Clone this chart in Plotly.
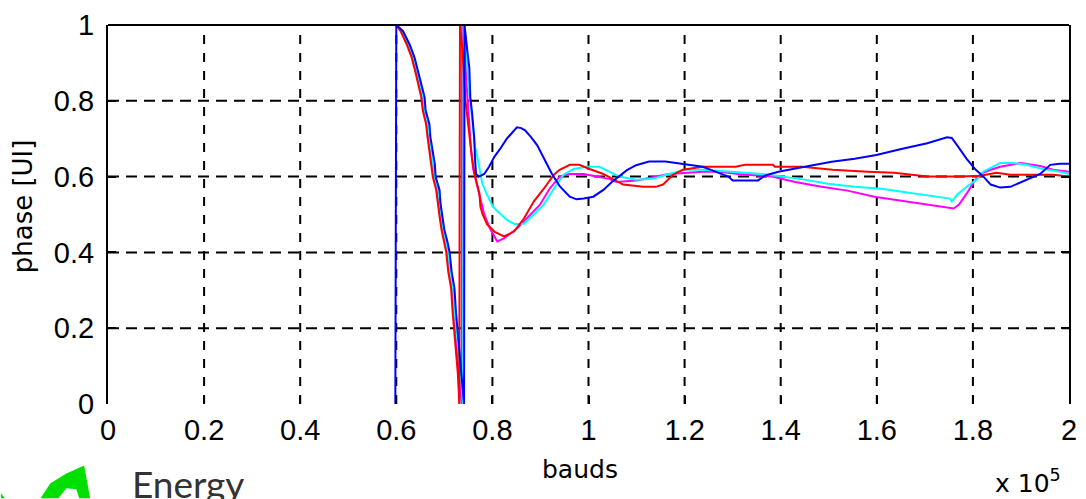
import plotly.graph_objects as go

# x values in units of 1e5 bauds, y = phase [UI]
blue_x = [0.598, 0.600, 0.614, 0.628, 0.638, 0.645, 0.651, 0.659, 0.661, 0.669, 0.671, 0.676, 0.680, 0.682,
          0.690, 0.692, 0.696, 0.700, 0.706, 0.711, 0.715, 0.721, 0.724, 0.728, 0.733, 0.736, 0.739, 0.741,
          0.742, 0.744, 0.748, 0.752, 0.754, 0.758, 0.762, 0.764, 0.766, 0.772, 0.783, 0.793, 0.804, 0.816,
          0.830, 0.851, 0.860, 0.868, 0.880, 0.893, 0.908, 0.924, 0.940, 0.961, 0.975, 0.990, 1.010, 1.031,
          1.048, 1.064, 1.080, 1.099, 1.126, 1.160, 1.196, 1.209, 1.238, 1.260, 1.291, 1.300, 1.353, 1.368,
          1.395, 1.450, 1.506, 1.554, 1.599, 1.651, 1.705, 1.746, 1.756, 1.767, 1.787, 1.806, 1.822, 1.837,
          1.857, 1.878, 1.911, 1.940, 1.961, 1.981, 2.000]
blue_y = [0.0, 1.0, 0.984, 0.948, 0.914, 0.880, 0.843, 0.809, 0.775, 0.738, 0.704, 0.670, 0.634, 0.599,
          0.565, 0.529, 0.495, 0.460, 0.430, 0.400, 0.350, 0.306, 0.246, 0.186, 0.134, 0.081, 0.030, 0.0,
          1.0, 0.970, 0.930, 0.887, 0.810, 0.764, 0.704, 0.644, 0.607, 0.600, 0.607, 0.626, 0.652, 0.673,
          0.700, 0.730, 0.728, 0.722, 0.705, 0.683, 0.645, 0.607, 0.575, 0.547, 0.540, 0.542, 0.547, 0.565,
          0.585, 0.600, 0.617, 0.630, 0.640, 0.640, 0.634, 0.630, 0.626, 0.615, 0.600, 0.590, 0.590, 0.603,
          0.613, 0.626, 0.639, 0.647, 0.657, 0.673, 0.688, 0.704, 0.702, 0.683, 0.647, 0.618, 0.600, 0.579,
          0.571, 0.573, 0.592, 0.607, 0.631, 0.634, 0.634]

cyan_x = [0.600, 0.612, 0.626, 0.636, 0.643, 0.649, 0.656, 0.659, 0.666, 0.669, 0.673, 0.677, 0.680, 0.687,
          0.690, 0.694, 0.698, 0.703, 0.708, 0.712, 0.718, 0.721, 0.725, 0.730, 0.734, 0.737, 0.739,
          0.740, 0.745, 0.750, 0.758, 0.764, 0.770, 0.779, 0.789, 0.801, 0.815, 0.831, 0.847, 0.866, 0.886,
          0.907, 0.928, 0.948, 0.969, 0.996, 1.023, 1.043, 1.064, 1.099, 1.134, 1.167, 1.202, 1.238, 1.306,
          1.361, 1.403, 1.450, 1.498, 1.554, 1.609, 1.663, 1.719, 1.752, 1.756, 1.767, 1.787, 1.808, 1.822,
          1.843, 1.857, 1.884, 1.911, 1.946, 1.981, 2.000]
cyan_y = [1.0, 0.984, 0.948, 0.914, 0.880, 0.843, 0.809, 0.775, 0.738, 0.704, 0.670, 0.634, 0.599, 0.565,
          0.529, 0.495, 0.460, 0.430, 0.400, 0.350, 0.306, 0.246, 0.186, 0.134, 0.081, 0.030, 0.0,
          1.0, 0.960, 0.843, 0.757, 0.678, 0.644, 0.581, 0.552, 0.521, 0.503, 0.485, 0.474, 0.476, 0.500,
          0.526, 0.568, 0.605, 0.620, 0.626, 0.626, 0.613, 0.600, 0.592, 0.594, 0.607, 0.618, 0.618, 0.613,
          0.607, 0.600, 0.592, 0.581, 0.573, 0.568, 0.558, 0.547, 0.542, 0.534, 0.552, 0.573, 0.592, 0.613,
          0.626, 0.636, 0.636, 0.631, 0.620, 0.613, 0.607]

magenta_x = [0.600, 0.611, 0.624, 0.634, 0.641, 0.647, 0.654, 0.657, 0.664, 0.667, 0.671, 0.675, 0.678, 0.685,
             0.688, 0.692, 0.696, 0.701, 0.706, 0.710, 0.716, 0.719, 0.723, 0.728, 0.731, 0.734, 0.736,
             0.737, 0.742, 0.746, 0.750, 0.755, 0.760, 0.768, 0.776, 0.783, 0.795, 0.810, 0.824, 0.851, 0.872,
             0.899, 0.919, 0.940, 0.961, 0.990, 1.017, 1.043, 1.058, 1.100, 1.167, 1.238, 1.271, 1.312, 1.382,
             1.430, 1.485, 1.539, 1.595, 1.651, 1.705, 1.760, 1.771, 1.787, 1.802, 1.816, 1.837, 1.857, 1.899,
             1.940, 1.967, 2.000]
magenta_y = [1.0, 0.984, 0.948, 0.914, 0.880, 0.843, 0.809, 0.775, 0.738, 0.704, 0.670, 0.634, 0.599, 0.565,
             0.529, 0.495, 0.460, 0.430, 0.400, 0.350, 0.306, 0.246, 0.186, 0.134, 0.081, 0.030, 0.0,
             1.0, 0.950, 0.850, 0.760, 0.680, 0.620, 0.580, 0.540, 0.500, 0.463, 0.429, 0.437, 0.463, 0.490,
             0.526, 0.568, 0.600, 0.607, 0.607, 0.600, 0.594, 0.586, 0.590, 0.607, 0.613, 0.613, 0.607, 0.600,
             0.586, 0.573, 0.563, 0.547, 0.537, 0.526, 0.516, 0.526, 0.555, 0.586, 0.607, 0.618, 0.626, 0.636,
             0.628, 0.618, 0.613]

red_x = [0.600, 0.609, 0.622, 0.632, 0.639, 0.645, 0.652, 0.655, 0.662, 0.665, 0.669, 0.673, 0.676, 0.683,
         0.686, 0.690, 0.694, 0.699, 0.704, 0.708, 0.714, 0.717, 0.721, 0.725, 0.728, 0.730, 0.731,
         0.7325, 0.738, 0.744, 0.752, 0.758, 0.764, 0.773, 0.775, 0.779, 0.789, 0.804, 0.824, 0.845, 0.866,
         0.886, 0.907, 0.928, 0.940, 0.961, 0.981, 1.002, 1.031, 1.052, 1.072, 1.114, 1.140, 1.155, 1.176,
         1.196, 1.238, 1.306, 1.326, 1.384, 1.388, 1.444, 1.508, 1.581, 1.636, 1.705, 1.775, 1.816, 1.849,
         1.878, 1.967, 2.000]
red_y = [1.0, 0.984, 0.948, 0.914, 0.880, 0.843, 0.809, 0.775, 0.738, 0.704, 0.670, 0.634, 0.599, 0.565,
         0.529, 0.495, 0.460, 0.430, 0.400, 0.350, 0.306, 0.246, 0.186, 0.134, 0.081, 0.030, 0.0,
         1.0, 0.932, 0.800, 0.712, 0.644, 0.600, 0.555, 0.521, 0.503, 0.474, 0.455, 0.442, 0.455, 0.490,
         0.534, 0.568, 0.605, 0.618, 0.631, 0.631, 0.620, 0.607, 0.592, 0.579, 0.573, 0.573, 0.579, 0.605,
         0.618, 0.626, 0.626, 0.631, 0.631, 0.626, 0.626, 0.618, 0.613, 0.610, 0.600, 0.600, 0.602, 0.610,
         0.605, 0.605, 0.600]

x_ticks = [0, 0.2, 0.4, 0.6, 0.8, 1.0, 1.2, 1.4, 1.6, 1.8, 2.0]
x_ticktext = ["0", "0.2", "0.4", "0.6", "0.8", "1", "1.2", "1.4", "1.6", "1.8", "2"]
y_ticks = [0, 0.2, 0.4, 0.6, 0.8, 1.0]
y_ticktext = ["0", "0.2", "0.4", "0.6", "0.8", "1"]
x_grid = [0.2, 0.4, 0.6, 0.8, 1.0, 1.2, 1.4, 1.6, 1.8]
y_grid = [0.2, 0.4, 0.6, 0.8]

W, H = 1086, 499
L, R, T, B = 108, 9, 22, 95
pw, ph = W - L - R, H - T - B

def px(xp):
    return (xp - L) / pw

def py(yp):
    return (H - B - yp) / ph

fig = go.Figure()
series = [(magenta_x, magenta_y, "#ff00ff"), (cyan_x, cyan_y, "#00ffff"),
          (red_x, red_y, "#ff0000"), (blue_x, blue_y, "#0000ff")]
for xs, ys, c in series:
    fig.add_trace(go.Scatter(x=xs, y=ys, mode="lines", line=dict(color=c, width=2),
                             showlegend=False, hoverinfo="skip"))

shapes = []
for g in x_grid:
    shapes.append(dict(type="line", xref="x", yref="paper", x0=g, x1=g, y0=0, y1=1,
                       line=dict(color="black", width=2, dash="9px,9px"), layer="below"))
for g in y_grid:
    shapes.append(dict(type="line", xref="paper", yref="y", x0=0, x1=1, y0=g, y1=g,
                       line=dict(color="black", width=2, dash="11px,7px"), layer="below"))
# top border
shapes.append(dict(type="line", xref="paper", yref="paper", x0=0, x1=1, y0=1, y1=1,
                   line=dict(color="black", width=2)))
# green logo
pts = [(40, 499), (50, 484), (66, 474), (84, 466), (90, 499), (79, 499), (76, 490), (66, 489), (58, 499)]
path = "M " + " L ".join(f"{px(a):.4f},{py(b):.4f}" for a, b in pts) + " Z"
shapes.append(dict(type="path", xref="paper", yref="paper", path=path,
                   fillcolor="#00e000", line=dict(width=0)))
shapes.append(dict(type="path", xref="paper", yref="paper",
                   path=f"M {px(0):.4f},{py(494):.4f} L {px(4):.4f},{py(499):.4f} L {px(0):.4f},{py(499):.4f} Z",
                   fillcolor="#00e000", line=dict(width=0)))

fig.update_layout(
    width=W, height=H,
    margin=dict(l=L, r=R, t=T, b=B),
    paper_bgcolor="white", plot_bgcolor="white",
    shapes=shapes,
    xaxis=dict(range=[0, 2], tickvals=x_ticks, ticktext=x_ticktext, showgrid=False, zeroline=False,
               showline=False, ticks="inside", ticklen=8, tickwidth=2, tickcolor="black",
               ticklabelstandoff=6,
               tickfont=dict(family="Liberation Sans, Arial", size=29, color="black")),
    yaxis=dict(range=[0, 1], tickvals=y_ticks, ticktext=y_ticktext, showgrid=False, zeroline=False,
               showline=True, linecolor="black", linewidth=2, mirror="ticks",
               ticks="inside", ticklen=8, tickwidth=2, tickcolor="black", ticklabelstandoff=6,
               tickfont=dict(family="Liberation Sans, Arial", size=29, color="black")),
    annotations=[
        dict(text="bauds", xref="paper", yref="paper", x=px(584), y=py(470), showarrow=False,
             xanchor="center", yanchor="middle",
             font=dict(family="DejaVu Sans", size=25, color="black")),
        dict(text="x 10<sup>5</sup>", xref="paper", yref="paper", x=px(1036), y=py(482), showarrow=False,
             xanchor="center", yanchor="middle",
             font=dict(family="DejaVu Sans", size=25, color="black")),
        dict(text="phase [UI]", xref="paper", yref="paper", x=px(22), y=py(205), showarrow=False,
             textangle=-90, xanchor="center", yanchor="middle",
             font=dict(family="DejaVu Sans", size=26, color="black")),
        dict(text="Energy", xref="paper", yref="paper", x=px(130), y=py(459), showarrow=False,
             xanchor="left", yanchor="top",
             font=dict(family="Lato", size=37, color="#333333")),
    ],
)

fig.write_html("out.html")
